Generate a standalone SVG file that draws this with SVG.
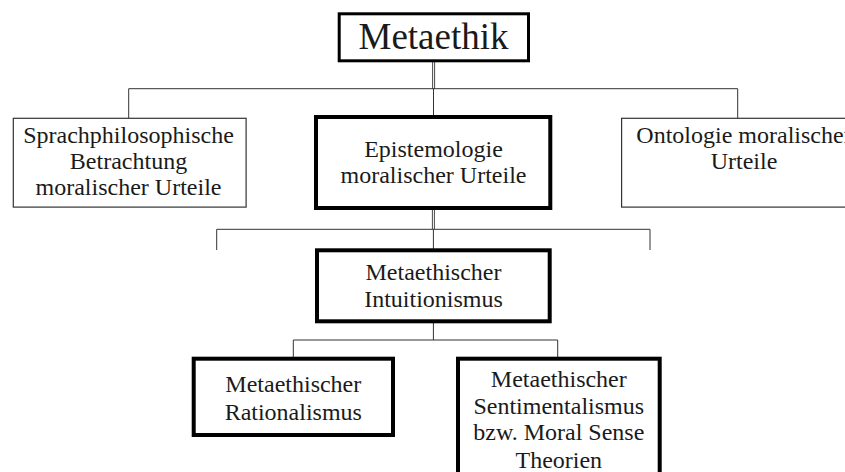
<svg xmlns="http://www.w3.org/2000/svg" width="845" height="472" viewBox="0 0 845 472">
  <style>
    .box { fill: #ffffff; stroke: #000000; }
    .thin { stroke-width: 1.2; stroke: #333333; }
    .thick { stroke-width: 4; }
    .label { font-family: "Liberation Serif", "Times New Roman", serif; font-size: 24px; fill: #1a1a1a; text-anchor: middle; }
    .title { font-size: 37px; }
    .wire { fill: none; stroke: #333333; stroke-width: 1; }
    .dbl { fill: none; stroke: #333333; stroke-width: 0.9; }
  </style>
  <rect width="845" height="472" fill="#ffffff"/>

  <g id="connectors">
    <!-- Metaethik to its three branches -->
    <line class="dbl" x1="432.6" y1="62" x2="432.6" y2="89"/>
    <line class="dbl" x1="434.6" y1="62" x2="434.6" y2="89"/>
    <polyline class="wire" points="128.7,118 128.7,88.7 737.7,88.7 737.7,118"/>
    <line class="wire" x1="433.5" y1="88.7" x2="433.5" y2="116"/>
    <!-- Epistemologie to its branches -->
    <line class="dbl" x1="432.4" y1="210" x2="432.4" y2="229.3"/>
    <line class="dbl" x1="434.4" y1="210" x2="434.4" y2="229.3"/>
    <polyline class="wire" points="216.7,250 216.7,229.3 650,229.3 650,250"/>
    <line class="wire" x1="433.4" y1="229.3" x2="433.4" y2="249"/>
    <!-- Intuitionismus to its branches -->
    <line class="wire" x1="433.4" y1="323" x2="433.4" y2="340"/>
    <polyline class="wire" points="293.3,357 293.3,340 557.7,340 557.7,357"/>
  </g>

  <g id="metaethik">
    <rect class="box" x="339.2" y="13.8" width="189.3" height="47" stroke-width="3"/>
    <text class="label title" x="433.5" y="49.3">Metaethik</text>
  </g>

  <g id="sprachphilosophie">
    <rect class="box thin" x="13.3" y="118.3" width="232.8" height="88.8"/>
    <text class="label" x="128.5" y="143.3">Sprachphilosophische</text>
    <text class="label" x="128.5" y="169.3">Betrachtung</text>
    <text class="label" x="128.5" y="195">moralischer Urteile</text>
  </g>

  <g id="epistemologie">
    <rect class="box thick" x="316" y="117" width="234.3" height="91"/>
    <text class="label" x="433.5" y="157.3">Epistemologie</text>
    <text class="label" x="433.5" y="183">moralischer Urteile</text>
  </g>

  <g id="ontologie">
    <rect class="box thin" x="621.6" y="118.3" width="246" height="88.8"/>
    <text class="label" x="744" y="143.3">Ontologie moralischer</text>
    <text class="label" x="744" y="169.3">Urteile</text>
  </g>

  <g id="intuitionismus">
    <rect class="box thick" x="317" y="250.3" width="232.7" height="71"/>
    <text class="label" x="433.5" y="279.5">Metaethischer</text>
    <text class="label" x="433.5" y="307.3">Intuitionismus</text>
  </g>

  <g id="rationalismus">
    <rect class="box thick" x="193.7" y="358.7" width="199.3" height="76.3"/>
    <text class="label" x="293.3" y="392">Metaethischer</text>
    <text class="label" x="293.3" y="420">Rationalismus</text>
  </g>

  <g id="sentimentalismus">
    <rect class="box thick" x="458" y="358.7" width="201.7" height="130"/>
    <text class="label" x="558.8" y="386.7">Metaethischer</text>
    <text class="label" x="558.8" y="413.5">Sentimentalismus</text>
    <text class="label" x="558.8" y="440.3">bzw. Moral Sense</text>
    <text class="label" x="558.8" y="467.5">Theorien</text>
  </g>
</svg>
